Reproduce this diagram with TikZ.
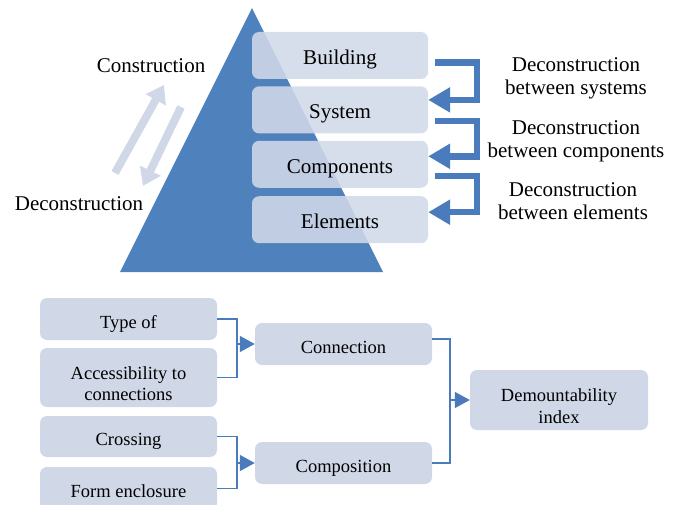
\documentclass[tikz,border=0pt]{standalone}
\usepackage{fontspec}
\setmainfont{Liberation Serif}
\usetikzlibrary{positioning, arrows.meta}
\definecolor{pyrblue}{HTML}{4F81BD}
\definecolor{boxgray}{HTML}{D0D8E8}
\definecolor{bentblue}{HTML}{4A7BBD}

\begin{document}
\begin{tikzpicture}[x=1pt, y=-1pt,
  level/.style={fill=boxgray, fill opacity=.88, text opacity=1, rounded corners=7pt,
    minimum width=176pt, minimum height=47pt, inner sep=0pt,
    text height=18pt, text depth=0pt, font=\fontsize{21}{23}\selectfont},
  factor/.style={fill=boxgray, rounded corners=7pt, minimum width=177pt,
    inner sep=0pt, align=center, text height=18pt, text depth=0pt,
    font=\fontsize{18.5}{21.5}\selectfont},
  twoline/.style={text height=46pt},
  note/.style={align=center, font=\fontsize{21}{23}\selectfont},
  flow/.style={draw=boxgray, line width=8pt, -{Triangle[width=22pt,length=17pt]}},
  bent/.style={draw=bentblue, line width=6.5pt, -{Triangle[width=24pt,length=22pt]}},
  link/.style={draw=bentblue, line width=1.6pt},
  linkto/.style={link, -{Triangle[width=16pt,length=15pt]}}]
\useasboundingbox (0,0) rectangle (680,505);
\clip (0,0) rectangle (680,505);

% pyramid and its levels
\fill[pyrblue] (120,272) -- (252,8) -- (383,272) -- cycle;
\node[level] (building) at (340,55.5) {Building};
\node[level, below=7pt of building] (system) {System};
\node[level, below=7pt of system] (components) {Components};
\node[level, below=8pt of components] (elements) {Elements};

% construction / deconstruction
\coordinate (upfrom) at (115,173);
\coordinate (upto) at (164,85);
\coordinate (downfrom) at (181,107);
\coordinate (downto) at (143,186);
\draw[flow] (upfrom) -- (upto);
\draw[flow] (downfrom) -- (downto);
\node[note] (cons) at (151,66) {Construction};
\node[note] (decons) at (79,204) {Deconstruction};

% deconstruction between levels
\draw[bent] ([shift={(7,7)}]building.east) -- ++(42,0) |- ([shift={(0,-10)}]system.east);
\draw[bent] ([shift={(7,11)}]system.east) -- ++(42,0) |- ([shift={(0,-8)}]components.east);
\draw[bent] ([shift={(7,11.5)}]components.east) -- ++(42,0) |- ([shift={(0,-7.5)}]elements.east);
\node[note] (dsys) at (576,78) {Deconstruction\\between systems};
\node[note] (dcomp) at (576,141) {Deconstruction\\between components};
\node[note] (delem) at (573,201) {Deconstruction\\between elements};

% demountability factors
\node[factor, minimum height=42pt] (typeof) at (128.5,319) {Type of};
\node[factor, twoline, minimum height=59pt] (access) at (128.5,377.5) {Accessibility to\\connections};
\node[factor, minimum height=41pt] (crossing) at (128.5,436.5) {Crossing};
\node[factor, minimum height=43pt] (enclosure) at (128.5,488.5) {Form enclosure};
\node[factor, minimum height=42pt] (connection) at (343.5,344) {Connection};
\node[factor, minimum height=42pt] (composition) at (343.5,463) {Composition};
\node[factor, twoline, minimum height=60pt, minimum width=178pt] (index) at (559,400) {Demountability\\index};

\draw[link] (typeof.east) -- ++(20,0) coordinate (j1) |- (access.east);
\draw[linkto] (j1 |- connection.west) -- (connection.west);
\draw[link] (crossing.east) -- ++(20,0) coordinate (j2) |- (enclosure.east);
\draw[linkto] (j2 |- composition.west) -- (composition.west);
\draw[link] ([yshift=5pt]connection.east) -- ++(18,0) coordinate (j3) |- (composition.east);
\draw[linkto] (j3 |- index.west) -- (index.west);
\end{tikzpicture}
\end{document}
